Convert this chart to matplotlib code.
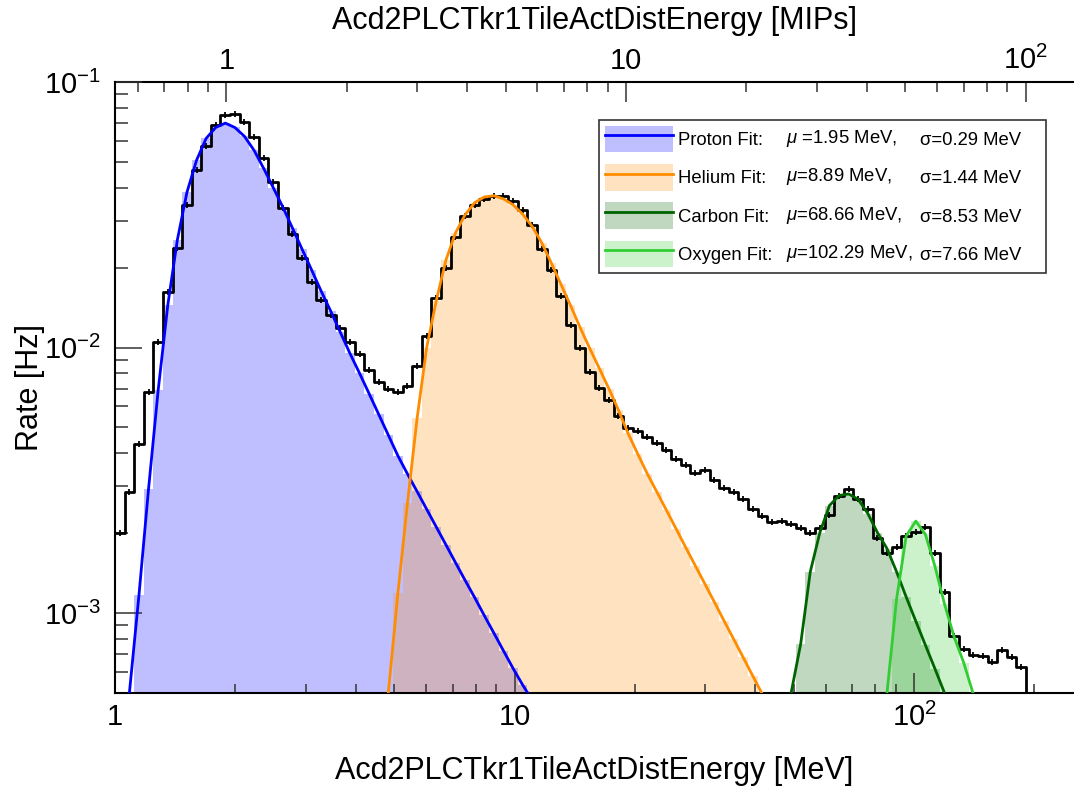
import numpy as np
import matplotlib
matplotlib.use('Agg')
import matplotlib.pyplot as plt
from matplotlib.ticker import FixedLocator, FuncFormatter, NullFormatter, LogLocator
from matplotlib.patches import Patch
from matplotlib.lines import Line2D

plt.rcParams['font.family'] = ['Liberation Sans', 'DejaVu Sans']
plt.rcParams['mathtext.fontset'] = 'custom'
plt.rcParams['mathtext.rm'] = 'Liberation Sans'
plt.rcParams['mathtext.it'] = 'Liberation Sans:italic'
plt.rcParams['mathtext.bf'] = 'Liberation Sans:bold'

# ---------------- data ----------------
n_bins = 100
log_e_low, log_e_high = 0.0, 2.4          # histogram range 1 .. 10^2.4 MeV
mev_per_mip = 1.9

counts = [
    2.0e-3, 2.85e-3, 4.35e-3, 6.82e-3, 1.053e-2, 1.62e-2, 2.38e-2, 3.44e-2, 4.65e-2, 5.72e-2,
    6.86e-2, 7.48e-2, 7.59e-2, 7.06e-2, 6.2e-2, 5.19e-2, 4.2e-2, 3.36e-2, 2.67e-2, 2.17e-2,
    1.77e-2, 1.51e-2, 1.33e-2, 1.18e-2, 1.045e-2, 9.44e-3, 8.2e-3, 7.39e-3, 6.98e-3, 6.78e-3,
    7.18e-3, 8.54e-3, 1.109e-2, 1.532e-2, 2.0e-2, 2.61e-2, 3.12e-2, 3.44e-2, 3.62e-2, 3.71e-2,
    3.71e-2, 3.56e-2, 3.29e-2, 2.89e-2, 2.36e-2, 1.96e-2, 1.564e-2, 1.217e-2, 9.95e-3, 8.06e-3,
    7.04e-3, 6.37e-3, 5.51e-3, 4.98e-3, 4.84e-3, 4.61e-3, 4.37e-3, 4.1e-3, 3.79e-3, 3.6e-3,
    3.36e-3, 3.47e-3, 3.16e-3, 2.96e-3, 2.85e-3, 2.7e-3, 2.46e-3, 2.33e-3, 2.2e-3, 2.22e-3,
    2.16e-3, 2.1e-3, 2.01e-3, 2.1e-3, 2.35e-3, 2.76e-3, 2.92e-3, 2.68e-3, 2.47e-3, 1.91e-3,
    1.68e-3, 1.77e-3, 1.95e-3, 2.02e-3, 2.11e-3, 1.69e-3, 1.2e-3, 8.18e-4, 7.33e-4, 6.95e-4,
    6.88e-4, 6.53e-4, 7.28e-4, 6.81e-4, 6.25e-4, 0.0, 0.0, 0.0, 0.0, 0.0,
]

proton_first_bin = 1
proton_fit = [
    5.0e-4, 1.17e-3, 2.94e-3, 6.9e-3, 1.44e-2, 2.54e-2, 3.84e-2, 5.07e-2, 6.13e-2, 6.74e-2,
    7.0e-2, 6.74e-2, 6.24e-2, 5.53e-2, 4.73e-2, 4.0e-2, 3.38e-2, 2.82e-2, 2.35e-2, 1.96e-2,
    1.63e-2, 1.37e-2, 1.14e-2, 9.5e-3, 8.0e-3, 6.7e-3, 5.6e-3, 4.68e-3, 3.91e-3, 3.34e-3,
    2.87e-3, 2.46e-3, 2.11e-3, 1.81e-3, 1.55e-3, 1.33e-3, 1.145e-3, 9.8e-4, 8.42e-4, 7.22e-4,
    6.2e-4, 5.37e-4, 4.7e-4,
]

helium_first_bin = 28
helium_fit = [
    5.0e-4, 1.19e-3, 2.6e-3, 5.41e-3, 1.0e-2, 1.5e-2, 2.13e-2, 2.7e-2, 3.16e-2, 3.51e-2,
    3.69e-2, 3.73e-2, 3.63e-2, 3.45e-2, 3.18e-2, 2.86e-2, 2.48e-2, 2.08e-2, 1.73e-2, 1.44e-2,
    1.19e-2, 9.93e-3, 8.35e-3, 7.0e-3, 5.81e-3, 4.75e-3, 3.98e-3, 3.35e-3, 2.86e-3, 2.44e-3,
    2.08e-3, 1.77e-3, 1.51e-3, 1.29e-3, 1.1e-3, 9.36e-4, 7.99e-4, 6.81e-4, 5.8e-4, 4.95e-4,
]

carbon_first_bin = 70
carbon_fit = [
    5.0e-4, 7.65e-4, 1.43e-3, 2.01e-3, 2.54e-3, 2.77e-3, 2.81e-3, 2.68e-3, 2.37e-3, 2.01e-3,
    1.75e-3, 1.43e-3, 1.15e-3, 9.33e-4, 7.58e-4, 6.17e-4, 5.0e-4,
]

oxygen_first_bin = 80
oxygen_fit = [
    5.0e-4, 1.13e-3, 1.95e-3, 2.22e-3, 1.98e-3, 1.5e-3, 1.08e-3, 8.13e-4, 6.5e-4, 4.95e-4,
]

fit_names = ["Proton Fit:", "Helium Fit:", "Carbon Fit:", "Oxygen Fit:"]
fit_mu = [r"$\mu$ =1.95 MeV,", r"$\mu$=8.89 MeV,", r"$\mu$=68.66 MeV,", r"$\mu$=102.29 MeV,"]
fit_sigma = ["σ=0.29 MeV", "σ=1.44 MeV", "σ=8.53 MeV", "σ=7.66 MeV"]
fit_colors = ["blue", "darkorange", "darkgreen", "limegreen"]

# ---------------- figure ----------------
W, H = 1074, 786
fig = plt.figure(figsize=(W / 100, H / 100), dpi=100)
ax_l, ax_r, ax_t, ax_b = 115, 1074, 82, 693
ax = fig.add_axes([ax_l / W, 1 - ax_b / H, (ax_r - ax_l) / W, (ax_b - ax_t) / H])
ax.set_xscale('log')
ax.set_yscale('log')

edges = np.logspace(log_e_low, log_e_high, n_bins + 1)
centers = np.sqrt(edges[:-1] * edges[1:])
counts_arr = np.array(counts)

fits = [(proton_fit, proton_first_bin), (helium_fit, helium_first_bin),
        (carbon_fit, carbon_first_bin), (oxygen_fit, oxygen_first_bin)]
for (vals, first), color in zip(fits, fit_colors):
    sub_edges = edges[first:first + len(vals) + 1]
    sub_centers = centers[first:first + len(vals)]
    ax.stairs(vals, sub_edges, baseline=1e-7, fill=True, facecolor=color,
              alpha=0.25, edgecolor='none', lw=0, zorder=1)
    ax.plot(sub_centers, vals, color=color, lw=2.0, zorder=4, solid_capstyle='butt')

# data histogram
ax.step(edges, np.append(counts_arr, counts_arr[-1]), where='post', color='black',
        lw=2.0, zorder=3)
pos = counts_arr > 0
ax.plot(centers[pos], counts_arr[pos], ls='none', marker='|', ms=5, mew=1.3,
        color='black', zorder=3)

ax.set_xlim(10 ** log_e_low, 10 ** log_e_high)
ax.set_ylim(5e-4, 1e-1)

# ticks
def x_fmt(v, pos=None):
    if abs(v - 1) < 1e-9:
        return '1'
    if abs(v - 10) < 1e-9:
        return '10'
    e = int(round(np.log10(v)))
    return r'$10^{%d}$' % e

ax.xaxis.set_major_locator(FixedLocator([1, 10, 100]))
ax.xaxis.set_major_formatter(FuncFormatter(x_fmt))
ax.xaxis.set_minor_locator(LogLocator(base=10, subs=np.arange(2, 10), numticks=20))
ax.xaxis.set_minor_formatter(NullFormatter())
ax.yaxis.set_minor_formatter(NullFormatter())

ax.tick_params(which='both', direction='in', top=False, right=False, color='#333333')
ax.tick_params(axis='x', which='major', length=14.4, width=1.1, labelsize=21, pad=7)
ax.tick_params(axis='x', which='minor', length=6.5, width=1.1)
ax.tick_params(axis='y', which='major', length=19.5, width=1.1, labelsize=21, pad=10)
ax.tick_params(axis='y', which='minor', length=9.5, width=1.1)

for s in ['right', 'top']:
    ax.spines[s].set_visible(False)
for s in ['left', 'bottom']:
    ax.spines[s].set_linewidth(1.5)

sec = ax.secondary_xaxis('top', functions=(lambda e: e / mev_per_mip,
                                           lambda m: m * mev_per_mip))
sec.xaxis.set_major_locator(FixedLocator([1, 10, 100]))
sec.xaxis.set_major_formatter(FuncFormatter(x_fmt))
sec.xaxis.set_minor_locator(FixedLocator([0.6, 0.7, 0.8, 0.9, 2, 3, 4, 5, 6, 7, 8, 9,
                                          20, 30, 40, 50, 60, 70, 80, 90]))
sec.xaxis.set_minor_formatter(NullFormatter())
sec.tick_params(which='both', direction='in', color='#333333')
sec.tick_params(which='major', length=14.4, width=1.1, labelsize=21, pad=5)
sec.tick_params(which='minor', length=7.2, width=1.1)
sec.spines['top'].set_linewidth(1.5)
sec.set_xlabel('Acd2PLCTkr1TileActDistEnergy [MIPs]', fontsize=22, labelpad=12)

ax.set_xlabel('Acd2PLCTkr1TileActDistEnergy [MeV]', fontsize=22, labelpad=17)
ax.set_ylabel('Rate [Hz]', fontsize=22)
ax.yaxis.set_label_coords((45 - ax_l) / (ax_r - ax_l), 0.5)

# legend
handles = []
for c in fit_colors:
    handles.append((Patch(facecolor=c, alpha=0.25, edgecolor='none'),
                    Line2D([], [], color=c, lw=2.0)))
lx0, lx1, ly0, ly1 = 599, 1046, 120, 273
leg = ax.legend(handles, fit_names, loc='upper left',
                bbox_to_anchor=(lx0 / W, 1 - ly1 / H, (lx1 - lx0) / W, (ly1 - ly0) / H),
                bbox_transform=fig.transFigure, mode='expand', borderaxespad=0,
                fontsize=13.3, handlelength=3.73, handleheight=1.85, labelspacing=0.63,
                handletextpad=0.25, borderpad=0.3, fancybox=False, framealpha=1,
                edgecolor='#333333')
leg.get_frame().set_linewidth(1.2)
leg.set_zorder(10)

fig.canvas.draw()
for i, t in enumerate(leg.get_texts()):
    bb = t.get_window_extent()
    yb = bb.y0
    for xpix, s in ((786, fit_mu[i]), (920, fit_sigma[i])):
        fig.text(xpix / W, yb / H, s, fontsize=13.3, ha='left', va='bottom', zorder=11)

fig.savefig('out.png', dpi=100)
